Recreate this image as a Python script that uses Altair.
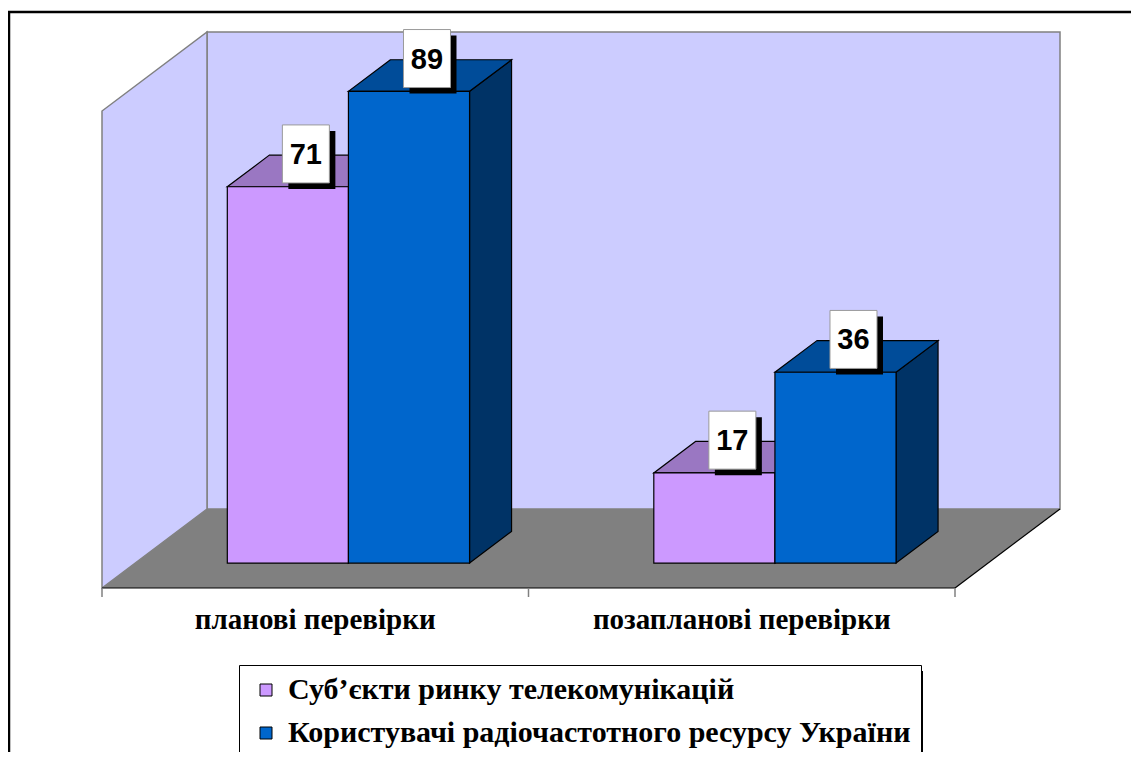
import altair as alt
import pandas as pd

# ---------------- data ----------------
CATEGORIES = ["планові перевірки", "позапланові перевірки"]
SERIES = ["Суб’єкти ринку телекомунікацій", "Користувачі радіочастотного ресурсу України"]
VALUES_TELECOM = [71, 17]
VALUES_RADIO = [89, 36]
FRONT_COLORS = ["#CC99FF", "#0066CC"]
TOP_COLORS = ["#9A77C2", "#004C99"]
SIDE_COLORS = ["#664C80", "#003366"]
WALL_TOP = 90

SERIF = "Liberation Serif"

# ---------------- 3D projection constants ----------------
W, H = 1123, 744
PX_PER_U = 426.5      # pixels per category unit
PX_PER_V = 5.3        # pixels per value unit
X0 = 94               # pixel of u = 0 (floor front)
Y0 = 580              # pixel of v = 0 (floor front)
PXU = 1 / PX_PER_U
PXV = 1 / PX_PER_V
DU = 105 * PXU        # full depth, in u
DV = 79 * PXV         # full depth, in v
D_F, D_B = 0.316, 0.716
D_MID = (D_F + D_B) / 2
BAR_W = 0.284

XS = alt.Scale(domain=[-X0 * PXU, (W - X0) * PXU], nice=False, zero=False)
YS = alt.Scale(domain=[(Y0 - H) * PXV, Y0 * PXV], nice=False, zero=False)

series_values = [VALUES_TELECOM, VALUES_RADIO]

front, tops, sides, labels = [], [], [], []
for si, sname in enumerate(SERIES):
    for ci, cat in enumerate(CATEGORIES):
        v = series_values[si][ci]
        bid = f"{si}-{ci}"
        u0 = ci + 0.5 - BAR_W + si * BAR_W
        u1 = u0 + BAR_W
        front.append(dict(series=sname, x=u0 + D_F * DU, x2=u1 + D_F * DU,
                          y=D_F * DV, y2=v + D_F * DV))
        tops.append(dict(id=bid, c=TOP_COLORS[si], y=v + D_F * DV,
                         x=u0 + D_F * DU, x2=u1 + D_F * DU))
        tops.append(dict(id=bid, c=TOP_COLORS[si], y=v + D_B * DV,
                         x=u0 + D_B * DU, x2=u1 + D_B * DU))
        sides.append(dict(id=bid, c=SIDE_COLORS[si], x=u1 + D_F * DU,
                          y=D_F * DV, y2=v + D_F * DV))
        sides.append(dict(id=bid, c=SIDE_COLORS[si], x=u1 + D_B * DU,
                          y=D_B * DV, y2=v + D_B * DV))
        cx = ci + 0.5 + (si - 0.5) * BAR_W + D_MID * DU - 3 * PXU
        top = v + D_MID * DV + 46 * PXV
        bot = v + D_MID * DV - 12 * PXV
        labels.append(dict(label=str(v), x=cx - 23.5 * PXU, x2=cx + 23.5 * PXU,
                           y=top, y2=bot, cx=cx, cy=(top + bot) / 2))

front_df = pd.DataFrame(front)
tops_df = pd.DataFrame(tops)
sides_df = pd.DataFrame(sides)
labels_df = pd.DataFrame(labels)

n = len(CATEGORIES)
back_df = pd.DataFrame([dict(x=DU, x2=n + DU, y=DV, y2=WALL_TOP + DV)])
left_df = pd.DataFrame([dict(x=0, y=0, y2=WALL_TOP), dict(x=DU, y=DV, y2=WALL_TOP + DV)])
floor_df = pd.DataFrame([dict(y=0, x=0, x2=n), dict(y=DV, x=DU, x2=n + DU)])
edges_df = pd.DataFrame([dict(x=0, y=0, x2=n, y2=0), dict(x=n, y=0, x2=n + DU, y2=DV)])
ticks_df = pd.DataFrame([dict(x=i, y=0, y2=-9 * PXV) for i in range(n + 1)])
cat_df = pd.DataFrame([dict(label=c, x=i + 0.5, y=-41 * PXV) for i, c in enumerate(CATEGORIES)])

X = lambda f="x": alt.X(f"{f}:Q", scale=XS, axis=None)
Y = lambda f="y": alt.Y(f"{f}:Q", scale=YS, axis=None)

one = pd.DataFrame([{"a": 1}])
border_top = alt.Chart(one).mark_rule(color="black", strokeWidth=2.5).encode(
    x=alt.value(0), x2=alt.value(1200), y=alt.value(4), y2=alt.value(4))
border_left = alt.Chart(one).mark_rule(color="black", strokeWidth=2.5).encode(
    x=alt.value(1), x2=alt.value(1), y=alt.value(3), y2=alt.value(900))

back = alt.Chart(back_df).mark_rect(fill="#CCCCFF", stroke="#808080", strokeWidth=1.5).encode(
    x=X(), x2="x2:Q", y=Y(), y2="y2:Q")

left = alt.Chart(left_df).mark_area(fill="#CCCCFF", stroke="#808080", strokeWidth=1.5,
                                    orient="vertical").encode(
    x=X(), y=alt.Y("y:Q", scale=YS, axis=None, stack=None), y2="y2:Q")

floor = alt.Chart(floor_df).mark_area(fill="#808080", orient="horizontal").encode(
    y=Y(), x=alt.X("x:Q", scale=XS, axis=None, stack=None), x2="x2:Q")

edges = alt.Chart(edges_df).mark_rule(color="black", strokeWidth=1.2).encode(
    x=X(), x2="x2:Q", y=Y(), y2="y2:Q")

ticks = alt.Chart(ticks_df).mark_rule(color="#808080", strokeWidth=1.5).encode(
    x=X(), y=Y(), y2="y2:Q")

side_l = alt.Chart(sides_df).mark_area(stroke="black", strokeWidth=1.2, orient="vertical").encode(
    x=X(), y=alt.Y("y:Q", scale=YS, axis=None, stack=None), y2="y2:Q",
    detail="id:N", color=alt.Color("c:N", scale=None))

top_l = alt.Chart(tops_df).mark_area(stroke="black", strokeWidth=1.2, orient="horizontal").encode(
    y=Y(), x=alt.X("x:Q", scale=XS, axis=None, stack=None), x2="x2:Q",
    detail="id:N", color=alt.Color("c:N", scale=None))

front_l = alt.Chart(front_df).mark_rect(stroke="black", strokeWidth=1.2).encode(
    x=X(), x2="x2:Q", y=Y(), y2="y2:Q",
    color=alt.Color("series:N", scale=alt.Scale(domain=SERIES, range=FRONT_COLORS),
                    legend=alt.Legend(
                        title=None, orient="none", legendX=231, legendY=657,
                        direction="vertical", symbolType="square", symbolSize=144,
                        symbolStrokeColor="black", symbolStrokeWidth=1,
                        symbolOffset=2,
                        labelFont=SERIF, labelFontSize=30,
                        labelFontWeight="bold", labelColor="black", labelLimit=900,
                        labelOffset=7, rowPadding=13, padding=10,
                        strokeColor="black", fillColor="white", offset=0)))

lab_shadow = alt.Chart(labels_df).mark_rect(fill="black", xOffset=6, x2Offset=6,
                                            yOffset=6, y2Offset=6).encode(
    x=X(), x2="x2:Q", y=Y(), y2="y2:Q")
lab_box = alt.Chart(labels_df).mark_rect(fill="white", stroke="#9a9a9a", strokeWidth=1).encode(
    x=X(), x2="x2:Q", y=Y(), y2="y2:Q")
lab_text = alt.Chart(labels_df).mark_text(
    font="Liberation Sans", fontSize=29, fontWeight="bold", color="black",
    align="center", baseline="middle", dy=1).encode(
    x=X("cx"), y=Y("cy"), text="label:N")

cat_text = alt.Chart(cat_df).mark_text(
    font=SERIF, fontSize=29, fontWeight="bold", color="black",
    align="center", baseline="alphabetic").encode(
    x=X(), y=Y(), text="label:N")

leg_shadow = alt.Chart(one).mark_rule(color="black", strokeWidth=7).encode(
    x=alt.value(911.5), x2=alt.value(911.5), y=alt.value(663), y2=alt.value(760))

chart = alt.layer(
    back, left, floor, edges, ticks, side_l, top_l, front_l,
    lab_shadow, lab_box, lab_text, cat_text, leg_shadow, border_top, border_left
).properties(
    width=W, height=H, padding=0, autosize=alt.AutoSizeParams(type="none")
).configure(
    font=SERIF
).configure_view(
    stroke=None
).configure_legend(
    labelFont=SERIF
)

chart.save("out.html", embed_options={"renderer": "svg", "actions": False})
